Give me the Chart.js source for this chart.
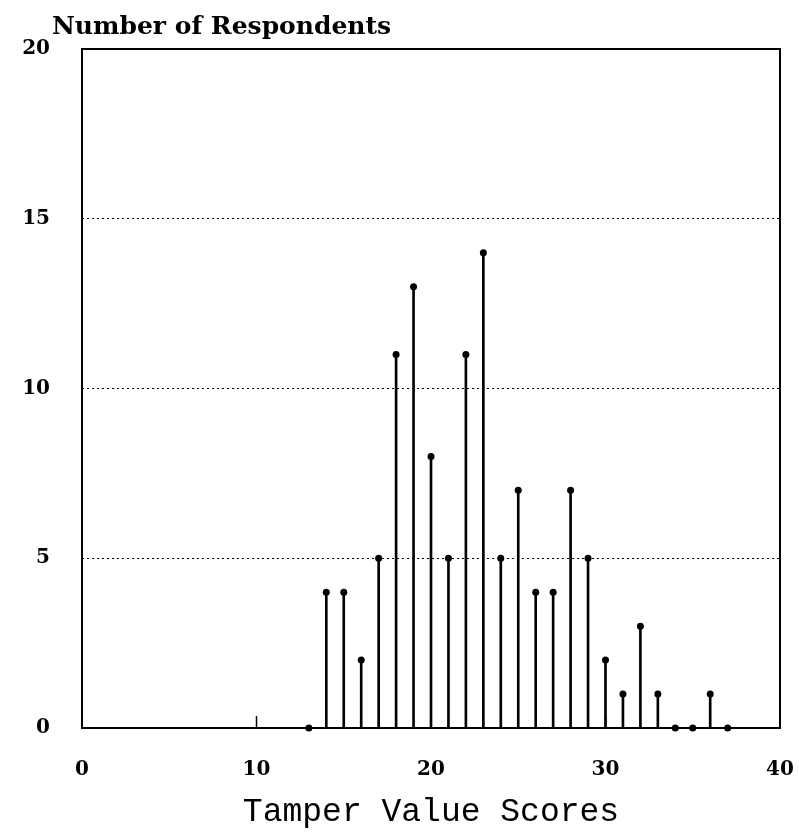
<!DOCTYPE html>
<html>
<head>
<meta charset="utf-8">
<script src="https://cdn.jsdelivr.net/npm/chart.js@4"></script>
<style>
  html, body { margin: 0; background: #fff; }
  #wrap { width: 799px; height: 833px; }
</style>
</head>
<body>
<div id="wrap"><canvas id="stemChart"></canvas></div>
<script>
// --- DATA ---
var scores = [13, 14, 15, 16, 17, 18, 19, 20, 21, 22, 23, 24, 25, 26, 27, 28, 29, 30, 31, 32, 33, 34, 35, 36, 37];
var respondents = [0, 4, 4, 2, 5, 11, 13, 8, 5, 11, 14, 5, 7, 4, 4, 7, 5, 2, 1, 3, 1, 0, 0, 1, 0];
var xTickValues = [0, 10, 20, 30, 40];
var yTickValues = [0, 5, 10, 15, 20];
var innerTicks = [10, 20, 30];
var yTitle = 'Number of Respondents';
var xTitle = 'Tamper Value Scores';

var points = scores.map(function (s, i) { return { x: s, y: respondents[i] }; });

// frame, inner tick marks on the bottom axis, and the y title drawn top-left
var framePlugin = {
  id: 'frame',
  afterDraw: function (chart) {
    var ctx = chart.ctx;
    var a = chart.chartArea;
    var xs = chart.scales.x;
    ctx.save();
    ctx.strokeStyle = '#000';
    ctx.lineWidth = 2;
    ctx.strokeRect(a.left, a.top, a.right - a.left, a.bottom - a.top);
    ctx.lineWidth = 1.5;
    innerTicks.forEach(function (v) {
      var px = xs.getPixelForValue(v);
      ctx.beginPath();
      ctx.moveTo(px, a.bottom);
      ctx.lineTo(px, a.bottom - 12);
      ctx.stroke();
    });
    ctx.fillStyle = '#000';
    ctx.font = 'bold 25px "DejaVu Serif"';
    ctx.textBaseline = 'alphabetic';
    ctx.textAlign = 'left';
    ctx.fillText(yTitle, 52, 34);
    ctx.restore();
  }
};

new Chart(document.getElementById('stemChart'), {
  type: 'scatter',
  data: {
    datasets: [{
      type: 'bar',
      data: points,
      backgroundColor: '#000',
      barThickness: 2,
      clip: false
    }, {
      type: 'scatter',
      data: points,
      pointRadius: 3.5,
      pointBackgroundColor: '#000',
      pointBorderColor: '#000',
      pointBorderWidth: 0,
      clip: false
    }]
  },
  options: {
    responsive: true,
    maintainAspectRatio: false,
    animation: false,
    layout: { padding: { left: 0, right: 19, top: 49, bottom: 0 } },
    plugins: {
      legend: { display: false },
      tooltip: { enabled: false }
    },
    scales: {
      x: {
        type: 'linear',
        min: 0,
        max: 40,
        offset: false,
        afterBuildTicks: function (scale) {
          scale.ticks = xTickValues.map(function (v) { return { value: v }; });
        },
        afterFit: function (scale) {
          scale.height = 105;
          scale.paddingLeft = 0;
          scale.paddingRight = 0;
        },
        grid: { display: false, drawTicks: false, offset: false },
        border: { display: false },
        ticks: {
          color: '#000',
          padding: 30,
          maxRotation: 0,
          font: { family: 'DejaVu Serif', size: 20, weight: 'bold' }
        },
        title: {
          display: true,
          text: xTitle,
          color: '#000',
          font: { family: 'Liberation Mono', size: 33 },
          padding: { top: 0, bottom: 1 }
        }
      },
      y: {
        min: 0,
        max: 20,
        afterBuildTicks: function (scale) {
          scale.ticks = yTickValues.map(function (v) { return { value: v }; });
        },
        afterFit: function (scale) { scale.width = 82; },
        grid: {
          drawTicks: false,
          lineWidth: 1,
          color: function (c) {
            var v = c.tick && c.tick.value;
            return (v > 0 && v < 20) ? '#000' : 'rgba(0,0,0,0)';
          }
        },
        border: { display: false, dash: [2, 3] },
        ticks: {
          color: '#000',
          padding: 32,
          font: { family: 'DejaVu Serif', size: 20, weight: 'bold' }
        }
      }
    }
  },
  plugins: [framePlugin]
});
</script>
</body>
</html>
